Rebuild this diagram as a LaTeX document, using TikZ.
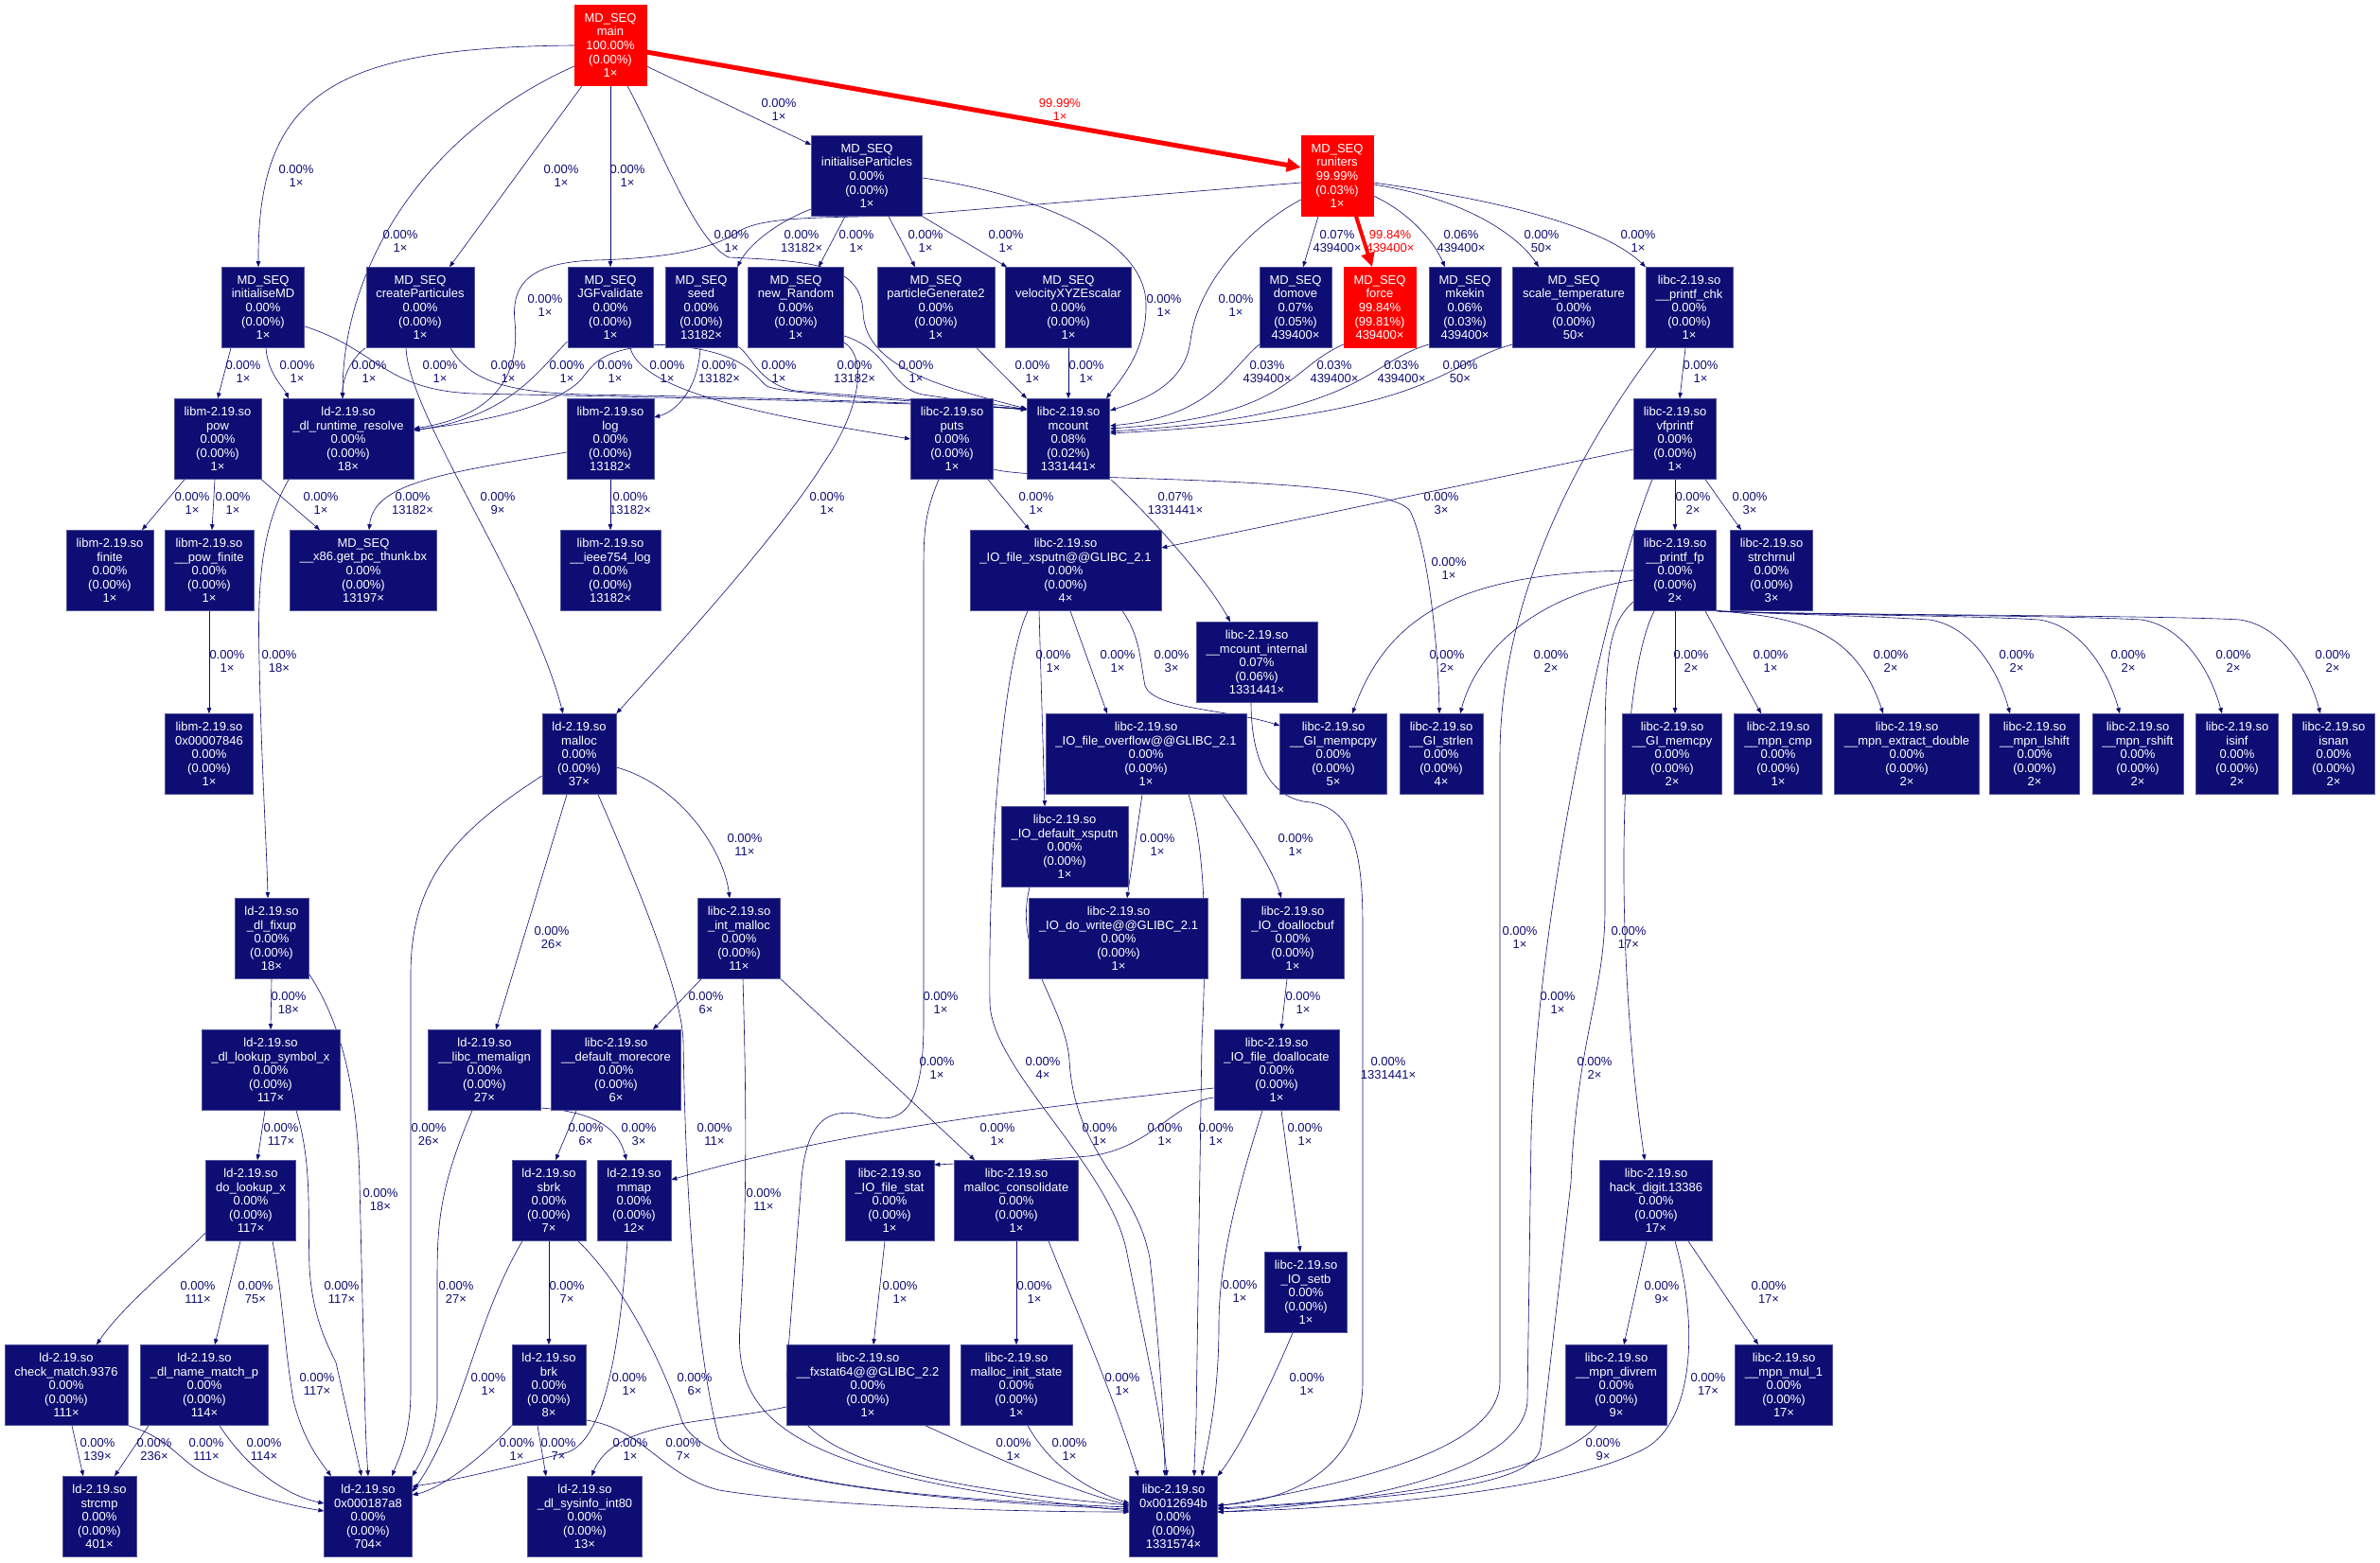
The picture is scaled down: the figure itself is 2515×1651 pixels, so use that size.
\documentclass[tikz,border=0pt]{standalone}
\usepackage{fontspec}
\setmainfont{Liberation Sans}
\usetikzlibrary{arrows.meta}
\definecolor{cold}{RGB}{13,13,115}
\definecolor{hot}{RGB}{255,0,0}
\pgfdeclarelayer{bg}
\pgfsetlayers{bg,main}

\begin{document}
\begin{tikzpicture}[x=1pt,y=-1pt,
  fn/.style={rectangle,draw=cold!70!white,line width=0.6pt,fill=cold,text=white,align=center,minimum height=85pt,inner xsep=10.5pt,inner ysep=0pt,font=\fontsize{13}{14.6}\selectfont},
  hotfn/.style={fn,fill=hot,draw=hot},
  lb/.style={align=center,inner sep=0pt,text=cold,font=\fontsize{13}{14.6}\selectfont},
  hotlb/.style={lb,text=hot},
  call/.style={-{Triangle[length=6pt,width=4.5pt]},draw=cold,line width=0.6pt},
  hotcall/.style={-{Triangle[length=15pt,width=14pt]},draw=hot,line width=5pt}]
\useasboundingbox (0,0) rectangle (2515,1651);

\node[hotfn] (main) at (645,48) {MD\_SEQ\\main\\100.00\%\\(0.00\%)\\1×};
\node[fn] (initp) at (916,186) {MD\_SEQ\\initialiseParticles\\0.00\%\\(0.00\%)\\1×};
\node[hotfn] (runiters) at (1413,186) {MD\_SEQ\\runiters\\99.99\%\\(0.03\%)\\1×};
\node[fn] (initmd) at (278,325) {MD\_SEQ\\initialiseMD\\0.00\%\\(0.00\%)\\1×};
\node[fn] (createp) at (444,325) {MD\_SEQ\\createParticules\\0.00\%\\(0.00\%)\\1×};
\node[fn] (jgf) at (645,325) {MD\_SEQ\\JGFvalidate\\0.00\%\\(0.00\%)\\1×};
\node[fn] (seed) at (741,325) {MD\_SEQ\\seed\\0.00\%\\(0.00\%)\\13182×};
\node[fn] (newrand) at (841,325) {MD\_SEQ\\new\_Random\\0.00\%\\(0.00\%)\\1×};
\node[fn] (pgen) at (989,325) {MD\_SEQ\\particleGenerate2\\0.00\%\\(0.00\%)\\1×};
\node[fn] (velxyz) at (1129,325) {MD\_SEQ\\velocityXYZEscalar\\0.00\%\\(0.00\%)\\1×};
\node[fn] (domove) at (1369,325) {MD\_SEQ\\domove\\0.07\%\\(0.05\%)\\439400×};
\node[hotfn] (force) at (1458,325) {MD\_SEQ\\force\\99.84\%\\(99.81\%)\\439400×};
\node[fn] (mkekin) at (1548,325) {MD\_SEQ\\mkekin\\0.06\%\\(0.03\%)\\439400×};
\node[fn] (scalet) at (1663,325) {MD\_SEQ\\scale\_temperature\\0.00\%\\(0.00\%)\\50×};
\node[fn] (pchk) at (1785,325) {libc-2.19.so\\\_\_printf\_chk\\0.00\%\\(0.00\%)\\1×};
\node[fn] (pow) at (230,464) {libm-2.19.so\\pow\\0.00\%\\(0.00\%)\\1×};
\node[fn] (rtres) at (368,464) {ld-2.19.so\\\_dl\_runtime\_resolve\\0.00\%\\(0.00\%)\\18×};
\node[fn] (log) at (645,464) {libm-2.19.so\\log\\0.00\%\\(0.00\%)\\13182×};
\node[fn] (puts) at (1006,464) {libc-2.19.so\\puts\\0.00\%\\(0.00\%)\\1×};
\node[fn] (mcount) at (1129,464) {libc-2.19.so\\mcount\\0.08\%\\(0.02\%)\\1331441×};
\node[fn] (vfpr) at (1770,464) {libc-2.19.so\\vfprintf\\0.00\%\\(0.00\%)\\1×};
\node[fn] (finite) at (116,603) {libm-2.19.so\\finite\\0.00\%\\(0.00\%)\\1×};
\node[fn] (powfin) at (221,603) {libm-2.19.so\\\_\_pow\_finite\\0.00\%\\(0.00\%)\\1×};
\node[fn] (thunk) at (384,603) {MD\_SEQ\\\_\_x86.get\_pc\_thunk.bx\\0.00\%\\(0.00\%)\\13197×};
\node[fn] (ieee) at (645,603) {libm-2.19.so\\\_\_ieee754\_log\\0.00\%\\(0.00\%)\\13182×};
\node[fn] (xsputn) at (1126,603) {libc-2.19.so\\\_IO\_file\_xsputn@@GLIBC\_2.1\\0.00\%\\(0.00\%)\\4×};
\node[fn] (pfp) at (1770,603) {libc-2.19.so\\\_\_printf\_fp\\0.00\%\\(0.00\%)\\2×};
\node[fn] (strchr) at (1872,603) {libc-2.19.so\\strchrnul\\0.00\%\\(0.00\%)\\3×};
\node[fn] (mcint) at (1328,700) {libc-2.19.so\\\_\_mcount\_internal\\0.07\%\\(0.06\%)\\1331441×};
\node[fn] (x7846) at (221,797) {libm-2.19.so\\0x00007846\\0.00\%\\(0.00\%)\\1×};
\node[fn] (malloc) at (612,797) {ld-2.19.so\\malloc\\0.00\%\\(0.00\%)\\37×};
\node[fn] (overflow) at (1211,797) {libc-2.19.so\\\_IO\_file\_overflow@@GLIBC\_2.1\\0.00\%\\(0.00\%)\\1×};
\node[fn] (mempcpy) at (1409,797) {libc-2.19.so\\\_\_GI\_mempcpy\\0.00\%\\(0.00\%)\\5×};
\node[fn] (strlen) at (1523,797) {libc-2.19.so\\\_\_GI\_strlen\\0.00\%\\(0.00\%)\\4×};
\node[fn] (memcpy) at (1767,797) {libc-2.19.so\\\_\_GI\_memcpy\\0.00\%\\(0.00\%)\\2×};
\node[fn] (mpncmp) at (1879,797) {libc-2.19.so\\\_\_mpn\_cmp\\0.00\%\\(0.00\%)\\1×};
\node[fn] (extract) at (2015,797) {libc-2.19.so\\\_\_mpn\_extract\_double\\0.00\%\\(0.00\%)\\2×};
\node[fn] (lshift) at (2150,797) {libc-2.19.so\\\_\_mpn\_lshift\\0.00\%\\(0.00\%)\\2×};
\node[fn] (rshift) at (2259,797) {libc-2.19.so\\\_\_mpn\_rshift\\0.00\%\\(0.00\%)\\2×};
\node[fn] (isinf) at (2364,797) {libc-2.19.so\\isinf\\0.00\%\\(0.00\%)\\2×};
\node[fn] (isnan) at (2466,797) {libc-2.19.so\\isnan\\0.00\%\\(0.00\%)\\2×};
\node[fn] (defxs) at (1125,895) {libc-2.19.so\\\_IO\_default\_xsputn\\0.00\%\\(0.00\%)\\1×};
\node[fn] (fixup) at (287,992) {ld-2.19.so\\\_dl\_fixup\\0.00\%\\(0.00\%)\\18×};
\node[fn] (intmal) at (781,992) {libc-2.19.so\\\_int\_malloc\\0.00\%\\(0.00\%)\\11×};
\node[fn] (dowrite) at (1182,992) {libc-2.19.so\\\_IO\_do\_write@@GLIBC\_2.1\\0.00\%\\(0.00\%)\\1×};
\node[fn] (dabuf) at (1366,992) {libc-2.19.so\\\_IO\_doallocbuf\\0.00\%\\(0.00\%)\\1×};
\node[fn] (lookup) at (286,1131) {ld-2.19.so\\\_dl\_lookup\_symbol\_x\\0.00\%\\(0.00\%)\\117×};
\node[fn] (memalign) at (512,1131) {ld-2.19.so\\\_\_libc\_memalign\\0.00\%\\(0.00\%)\\27×};
\node[fn] (morecore) at (651,1131) {libc-2.19.so\\\_\_default\_morecore\\0.00\%\\(0.00\%)\\6×};
\node[fn] (fdalloc) at (1349,1131) {libc-2.19.so\\\_IO\_file\_doallocate\\0.00\%\\(0.00\%)\\1×};
\node[fn] (dolookup) at (265,1269) {ld-2.19.so\\do\_lookup\_x\\0.00\%\\(0.00\%)\\117×};
\node[fn] (sbrk) at (580,1269) {ld-2.19.so\\sbrk\\0.00\%\\(0.00\%)\\7×};
\node[fn] (mmap) at (670,1269) {ld-2.19.so\\mmap\\0.00\%\\(0.00\%)\\12×};
\node[fn] (fstat) at (940,1269) {libc-2.19.so\\\_IO\_file\_stat\\0.00\%\\(0.00\%)\\1×};
\node[fn] (mcons) at (1074,1269) {libc-2.19.so\\malloc\_consolidate\\0.00\%\\(0.00\%)\\1×};
\node[fn] (hack) at (1750,1269) {libc-2.19.so\\hack\_digit.13386\\0.00\%\\(0.00\%)\\17×};
\node[fn] (setb) at (1380,1366) {libc-2.19.so\\\_IO\_setb\\0.00\%\\(0.00\%)\\1×};
\node[fn] (chkmatch) at (70,1464) {ld-2.19.so\\check\_match.9376\\0.00\%\\(0.00\%)\\111×};
\node[fn] (namem) at (216,1464) {ld-2.19.so\\\_dl\_name\_match\_p\\0.00\%\\(0.00\%)\\114×};
\node[fn] (brk) at (580,1464) {ld-2.19.so\\brk\\0.00\%\\(0.00\%)\\8×};
\node[fn] (fxstat) at (917,1464) {libc-2.19.so\\\_\_fxstat64@@GLIBC\_2.2\\0.00\%\\(0.00\%)\\1×};
\node[fn] (minit) at (1074,1464) {libc-2.19.so\\malloc\_init\_state\\0.00\%\\(0.00\%)\\1×};
\node[fn] (divrem) at (1708,1464) {libc-2.19.so\\\_\_mpn\_divrem\\0.00\%\\(0.00\%)\\9×};
\node[fn] (mul1) at (1885,1464) {libc-2.19.so\\\_\_mpn\_mul\_1\\0.00\%\\(0.00\%)\\17×};
\node[fn] (strcmp) at (105,1603) {ld-2.19.so\\strcmp\\0.00\%\\(0.00\%)\\401×};
\node[fn] (ld187) at (389,1603) {ld-2.19.so\\0x000187a8\\0.00\%\\(0.00\%)\\704×};
\node[fn] (int80) at (618,1603) {ld-2.19.so\\\_dl\_sysinfo\_int80\\0.00\%\\(0.00\%)\\13×};
\node[fn] (lc1269) at (1240,1603) {libc-2.19.so\\0x0012694b\\0.00\%\\(0.00\%)\\1331574×};

\begin{pgfonlayer}{bg}
\draw[call] (main.west) .. controls (350,50) and (272,100) .. ([xshift=-5pt]initmd.north);
\draw[call] ([yshift=-22pt]main.west) .. controls (450,140) and (362,280) .. ([xshift=-6pt]rtres.north);
\draw[call] ([xshift=-30pt]main.south) -- ([xshift=31pt]createp.north);
\draw[call] (main.south) -- (jgf.north);
\draw[call] ([xshift=18pt]main.south) .. controls (700,160) and (735,255) .. (770,272) .. controls (860,276) and (910,280) .. (912,330) .. controls (914,390) and (1000,410) .. ([yshift=32pt]mcount.west);
\draw[call] ([yshift=-22pt]main.east) -- ([yshift=33pt]initp.west);
\draw[hotcall] ([yshift=-7pt]main.east) -- ([yshift=9pt]runiters.west);
\draw[hotcall,line width=4pt] ([xshift=20pt]runiters.south) -- ([xshift=-8pt]force.north);
\draw[call] ([xshift=-20pt]runiters.south) -- ([xshift=8pt]domove.north);
\draw[call] ([yshift=-21pt]runiters.east) .. controls (1490,225) and (1515,255) .. ([xshift=-21pt]mkekin.north);
\draw[call] ([yshift=-9pt]runiters.east) .. controls (1550,210) and (1605,250) .. ([xshift=-37pt]scalet.north);
\draw[call] ([yshift=-7pt]runiters.east) .. controls (1610,215) and (1700,245) .. ([xshift=-46pt]pchk.north);
\draw[call] ([yshift=-25pt]runiters.west) .. controls (1320,240) and (1265,300) .. (1258,360) .. controls (1252,410) and (1200,425) .. ([yshift=30pt]mcount.east);
\draw[call] ([yshift=-7pt]runiters.west) -- (976,226) .. controls (900,232) and (810,225) .. (780,245) .. controls (750,265) and (700,273) .. (630,275) .. controls (560,277) and (540,300) .. (544,340) .. controls (550,400) and (520,440) .. ([yshift=11pt]rtres.east);
\draw[call] ([yshift=-35pt]initp.west) .. controls (820,235) and (790,260) .. (seed.north east);
\draw[call] ([xshift=-23pt]initp.south) -- ([xshift=24pt]newrand.north);
\draw[call] ([xshift=23pt]initp.south) -- ([xshift=-22pt]pgen.north);
\draw[call] (initp.south east) -- ([xshift=-65pt]velxyz.north);
\draw[call] ([yshift=-2pt]initp.east) .. controls (1090,205) and (1210,250) .. (1211,321) .. controls (1212,370) and (1185,400) .. ([xshift=40pt]mcount.north);
\draw[call] ([xshift=-34pt]initmd.south) -- (pow.north);
\draw[call] ([xshift=3pt]initmd.south) .. controls (283,395) and (300,410) .. ([xshift=-63pt]rtres.north);
\draw[call] ([yshift=-20pt]initmd.east) .. controls (400,370) and (405,412) .. (500,416) .. controls (700,420) and (950,425) .. ([yshift=32pt]mcount.west);
\draw[call] ([xshift=-58pt]createp.south) .. controls (370,380) and (362,400) .. ([xshift=-6pt]rtres.north);
\draw[call] ([xshift=-15pt]createp.south) .. controls (432,440) and (560,620) .. ([xshift=-17pt]malloc.north);
\draw[call] ([xshift=32pt]createp.south) .. controls (495,400) and (530,415) .. (620,417) .. controls (800,420) and (1000,426) .. ([yshift=31pt]mcount.west);
\draw[call] ([yshift=-36pt]jgf.west) .. controls (570,390) and (540,440) .. ([yshift=9pt]rtres.east);
\draw[call] ([xshift=21pt]jgf.south) .. controls (680,420) and (850,445) .. (puts.west);
\draw[call] ([yshift=-39pt]jgf.east) .. controls (785,368) and (795,395) .. (810,408) .. controls (830,418) and (1000,425) .. ([yshift=31pt]mcount.west);
\draw[call] ([yshift=-39pt]seed.west) .. controls (640,368) and (630,380) .. (615,400) .. controls (590,430) and (500,448) .. ([yshift=10pt]rtres.east);
\draw[call] ([xshift=-1pt]seed.south) .. controls (738,410) and (715,435) .. ([yshift=23pt]log.east);
\draw[call] ([yshift=-41pt]seed.east) .. controls (795,375) and (800,405) .. (840,413) .. controls (900,418) and (1000,425) .. ([yshift=31pt]mcount.west);
\draw[call] ([yshift=-37pt]newrand.east) .. controls (920,380) and (905,440) .. (870,490) .. controls (820,570) and (700,700) .. (malloc.north east);
\draw[call] ([yshift=-30pt]newrand.east) .. controls (940,370) and (940,410) .. (975,417) .. controls (1020,424) and (1060,428) .. ([yshift=31pt]mcount.west);
\draw[call] ([xshift=43pt]pgen.south) -- (mcount.north west);
\draw[call] (velxyz.south) -- (mcount.north);
\draw[call] ([yshift=-39pt]domove.west) .. controls (1295,395) and (1280,440) .. ([yshift=14pt]mcount.east);
\draw[call] ([yshift=-39pt]force.west) .. controls (1360,390) and (1365,440) .. ([yshift=11pt]mcount.east);
\draw[call] ([yshift=-39pt]mkekin.west) .. controls (1440,385) and (1440,440) .. ([yshift=8pt]mcount.east);
\draw[call] ([yshift=-39pt]scalet.west) .. controls (1520,385) and (1520,440) .. ([yshift=6pt]mcount.east);
\draw[call] ([xshift=-4pt]pchk.south) -- ([xshift=5pt]vfpr.north);
\draw[call] ([xshift=-35pt]pchk.south) .. controls (1680,460) and (1585,620) .. (1585,800) -- (1585,1460) .. controls (1585,1520) and (1480,1560) .. ([yshift=11pt]lc1269.east);
\draw[call] ([xshift=-35pt]pow.south) -- ([xshift=34pt]finite.north);
\draw[call] ([xshift=-3pt]pow.south) -- ([xshift=3pt]powfin.north);
\draw[call] (pow.south east) -- ([xshift=-46pt]thunk.north);
\draw[call] ([yshift=-14pt]log.west) .. controls (470,500) and (395,510) .. ([xshift=6pt]thunk.north);
\draw[call] (log.south) -- (ieee.north);
\draw[call] ([xshift=-63pt]rtres.south) .. controls (275,560) and (272,620) .. (274,700) .. controls (276,800) and (282,900) .. ([xshift=-4pt]fixup.north);
\draw[call] ([xshift=38pt]puts.south) -- ([xshift=-38pt]xsputn.north);
\draw[call] ([yshift=-32pt]puts.east) .. controls (1100,510) and (1460,500) .. (1490,540) .. controls (1510,580) and (1520,690) .. ([xshift=-2pt]strlen.north);
\draw[call] ([xshift=-14pt]puts.south) .. controls (978,540) and (976,560) .. (976,600) -- (976,1080) .. controls (976,1160) and (960,1190) .. (920,1180) .. controls (880,1170) and (850,1175) .. (846,1260) -- (832,1440) .. controls (822,1520) and (900,1565) .. ([yshift=12pt]lc1269.west);
\draw[call] ([xshift=45pt]mcount.south) .. controls (1230,560) and (1280,620) .. ([xshift=-28pt]mcint.north);
\draw[call] ([yshift=-11pt]vfpr.west) -- ([yshift=24pt]xsputn.east);
\draw[call] (vfpr.south) -- (pfp.north);
\draw[call] ([xshift=32pt]vfpr.south) -- ([xshift=-32pt]strchr.north);
\draw[call] ([xshift=-24pt]vfpr.south) .. controls (1700,620) and (1625,950) .. (1618,1200) -- (1614,1480) .. controls (1612,1550) and (1450,1590) .. ([yshift=5pt]lc1269.east);
\draw[call] (powfin.south) -- (x7846.north);
\draw[call] ([xshift=-28pt]xsputn.south) -- ([xshift=-21pt]defxs.north);
\draw[call] ([xshift=5pt]xsputn.south) -- ([xshift=-41pt]overflow.north);
\draw[call] ([xshift=60pt]xsputn.south) .. controls (1205,672) and (1205,700) .. (1210,725) .. controls (1220,750) and (1300,750) .. ([yshift=30pt]mempcpy.west);
\draw[call] ([xshift=-40pt]xsputn.south) .. controls (1060,700) and (1044,900) .. (1046,1060) .. controls (1048,1130) and (1170,1230) .. (1190,1320) .. controls (1210,1420) and (1228,1500) .. ([xshift=-7pt]lc1269.north);
\draw[call] (pfp.west) .. controls (1560,605) and (1470,640) .. ([xshift=20pt]mempcpy.north);
\draw[call] ([yshift=-10pt]pfp.west) .. controls (1620,630) and (1560,690) .. ([xshift=20pt]strlen.north);
\draw[call] (pfp.south) -- ([xshift=3pt]memcpy.north);
\draw[call] ([xshift=32pt]pfp.south) -- ([xshift=-18pt]mpncmp.north);
\draw[call] (pfp.south east) .. controls (1900,652) and (1960,665) .. ([xshift=-25pt]extract.north);
\draw[call] (pfp.south east) .. controls (1900,650) and (1954,650) .. (2039,655) .. controls (2084,662) and (2112,710) .. ([xshift=-26pt]lshift.north);
\draw[call] (pfp.south east) .. controls (1900,650) and (2070,650) .. (2155,655) .. controls (2200,662) and (2228,710) .. ([xshift=-19pt]rshift.north);
\draw[call] (pfp.south east) .. controls (1900,650) and (2178,650) .. (2263,655) .. controls (2308,662) and (2336,710) .. ([xshift=-16pt]isinf.north);
\draw[call] (pfp.south east) .. controls (1900,650) and (2282,650) .. (2367,655) .. controls (2412,662) and (2440,710) .. ([xshift=-14pt]isnan.north);
\draw[call] ([xshift=-22pt]pfp.south) .. controls (1710,720) and (1705,1000) .. ([xshift=-12pt]hack.north);
\draw[call] ([yshift=-33pt]pfp.west) .. controls (1700,660) and (1696,690) .. (1696,800) -- (1696,960) .. controls (1696,1050) and (1666,1100) .. (1660,1250) -- (1628,1530) .. controls (1620,1570) and (1500,1582) .. ([yshift=9pt]lc1269.east);
\draw[call] ([xshift=-6pt]mcint.south) .. controls (1322,800) and (1340,845) .. (1385,848) .. controls (1430,855) and (1440,900) .. (1440,980) -- (1440,1460) .. controls (1440,1540) and (1380,1585) .. ([yshift=12pt]lc1269.east);
\draw[call] ([yshift=-14pt]malloc.east) .. controls (720,830) and (765,900) .. ([xshift=-10pt]intmal.north);
\draw[call] ([xshift=-13pt]malloc.south) -- ([xshift=12pt]memalign.north);
\draw[call] ([yshift=-23pt]malloc.west) .. controls (480,880) and (434,930) .. (434,1030) -- (434,1470) .. controls (434,1520) and (420,1545) .. ([xshift=25pt]ld187.north);
\draw[call] ([xshift=20pt]malloc.south) .. controls (680,950) and (720,1050) .. (722,1100) .. controls (725,1300) and (740,1450) .. (760,1520) .. controls (790,1570) and (1000,1585) .. ([yshift=10pt]lc1269.west);
\draw[call] ([xshift=-4pt]overflow.south) -- ([xshift=9pt]dowrite.north);
\draw[call] ([xshift=81pt]overflow.south) .. controls (1320,880) and (1345,920) .. ([xshift=-12pt]dabuf.north);
\draw[call] ([xshift=45pt]overflow.south) .. controls (1275,900) and (1275,1000) .. (1270,1100) -- (1264,1500) .. controls (1263,1530) and (1262,1545) .. ([xshift=22pt]lc1269.north);
\draw[call] ([xshift=-37pt]defxs.south) .. controls (1070,1010) and (1125,1060) .. (1130,1120) .. controls (1135,1220) and (1200,1250) .. (1215,1330) .. controls (1225,1420) and (1230,1500) .. ([xshift=-9pt]lc1269.north);
\draw[call] (fixup.south) -- (lookup.north);
\draw[call] ([yshift=-37pt]fixup.east) .. controls (360,1080) and (378,1150) .. (380,1250) -- (386,1500) .. controls (387,1530) and (388,1545) .. (ld187.north);
\draw[call] ([xshift=-40pt]intmal.south) -- ([xshift=39pt]morecore.north);
\draw[call] ([xshift=4pt]intmal.south) .. controls (790,1200) and (788,1300) .. (782,1400) .. controls (775,1500) and (830,1560) .. ([yshift=6pt]lc1269.west);
\draw[call] (intmal.south east) -- ([xshift=-44pt]mcons.north);
\draw[call] ([xshift=-6pt]dabuf.south) -- ([xshift=5pt]fdalloc.north);
\draw[call] ([xshift=-6pt]lookup.south) -- ([xshift=7pt]dolookup.north);
\draw[call] ([xshift=27pt]lookup.south) .. controls (330,1230) and (325,1280) .. (327,1340) .. controls (330,1390) and (345,1420) .. (355,1440) -- ([xshift=-7pt]ld187.north);
\draw[call] ([yshift=-40pt]memalign.east) .. controls (640,1176) and (655,1200) .. ([xshift=-8pt]mmap.north);
\draw[call] ([xshift=-13pt]memalign.south) .. controls (462,1260) and (462,1300) .. (462,1360) -- (462,1480) .. controls (460,1520) and (445,1545) .. (ld187.north east);
\draw[call] ([xshift=-42pt]morecore.south) -- ([xshift=7pt]sbrk.north);
\draw[call] ([yshift=-19pt]fdalloc.west) .. controls (1150,1165) and (900,1190) .. ([yshift=22pt]mmap.east);
\draw[call] ([yshift=-29pt]fdalloc.west) .. controls (1240,1165) and (1215,1215) .. (1150,1222) .. controls (1080,1228) and (1030,1229) .. ([yshift=38pt]fstat.east);
\draw[call] ([xshift=5pt]fdalloc.south) -- ([xshift=-6pt]setb.north);
\draw[call] ([xshift=-15pt]fdalloc.south) .. controls (1310,1250) and (1288,1330) .. (1288,1400) .. controls (1288,1480) and (1275,1530) .. ([xshift=30pt]lc1269.north);
\draw[call] ([yshift=-34pt]dolookup.west) .. controls (180,1340) and (130,1380) .. ([xshift=32pt]chkmatch.north);
\draw[call] ([xshift=-11pt]dolookup.south) -- ([xshift=11pt]namem.north);
\draw[call] ([xshift=23pt]dolookup.south) .. controls (300,1380) and (300,1420) .. (310,1480) .. controls (320,1520) and (335,1540) .. ([xshift=-39pt]ld187.north);
\draw[call] (sbrk.south) -- (brk.north);
\draw[call] ([xshift=-28pt]sbrk.south) .. controls (500,1400) and (490,1500) .. ([yshift=26pt]ld187.east);
\draw[call] ([xshift=31pt]sbrk.south) .. controls (660,1360) and (700,1440) .. (720,1500) .. controls (740,1560) and (950,1585) .. ([yshift=8pt]lc1269.west);
\draw[call] ([xshift=-7pt]mmap.south) .. controls (655,1420) and (640,1520) .. (600,1535) .. controls (540,1550) and (480,1565) .. ([yshift=32pt]ld187.east);
\draw[call] ([xshift=-5pt]fstat.south) -- ([xshift=6pt]fxstat.north);
\draw[call] (mcons.south) -- (minit.north);
\draw[call] ([xshift=34pt]mcons.south) .. controls (1135,1380) and (1175,1470) .. ([xshift=-37pt]lc1269.north);
\draw[call] ([xshift=-10pt]hack.south) -- ([xshift=8pt]divrem.north);
\draw[call] ([xshift=34pt]hack.south) -- ([xshift=-27pt]mul1.north);
\draw[call] ([xshift=20pt]hack.south) .. controls (1795,1400) and (1790,1500) .. (1740,1530) .. controls (1650,1580) and (1400,1595) .. ([yshift=5pt]lc1269.east);
\draw[call] ([xshift=-14pt]setb.south) .. controls (1340,1470) and (1310,1530) .. (lc1269.north east);
\draw[call] ([xshift=6pt]chkmatch.south) -- ([xshift=-17pt]strcmp.north);
\draw[call] (chkmatch.south east) .. controls (180,1520) and (190,1545) .. (220,1560) .. controls (260,1580) and (310,1592) .. ([yshift=6pt]ld187.west);
\draw[call] ([xshift=-59pt]namem.south) -- ([xshift=16pt]strcmp.north);
\draw[call] ([xshift=16pt]namem.south) .. controls (260,1550) and (300,1580) .. ([yshift=14pt]ld187.west);
\draw[call] (brk.south west) .. controls (500,1550) and (460,1575) .. ([yshift=23pt]ld187.east);
\draw[call] ([xshift=-12pt]brk.south) -- ([xshift=-41pt]int80.north);
\draw[call] ([yshift=-37pt]brk.east) .. controls (680,1510) and (700,1560) .. (760,1575) .. controls (850,1590) and (1050,1598) .. ([yshift=5pt]lc1269.west);
\draw[call] ([yshift=-23pt]fxstat.west) .. controls (750,1505) and (650,1500) .. ([xshift=7pt]int80.north);
\draw[call] ([xshift=61pt]fxstat.south) .. controls (1050,1540) and (1130,1575) .. ([yshift=12pt]lc1269.west);
\draw[call] ([xshift=12pt]minit.south) .. controls (1110,1550) and (1150,1575) .. ([yshift=14pt]lc1269.west);
\draw[call] ([xshift=-21pt]divrem.south) .. controls (1650,1550) and (1500,1585) .. ([yshift=8pt]lc1269.east);
\end{pgfonlayer}

\node[lb] (l1) at (313,186) {0.00\%\\1×};
\node[lb] (l2) at (423,255) {0.00\%\\1×};
\node[lb] (l3) at (593,186) {0.00\%\\1×};
\node[lb] (l4) at (663,186) {0.00\%\\1×};
\node[lb] (l5) at (773,255) {0.00\%\\1×};
\node[lb] (l6) at (823,116) {0.00\%\\1×};
\node[hotlb] (l7) at (1120,116) {99.99\%\\1×};
\node[hotlb] (l8) at (1469,255) {99.84\%\\439400×};
\node[lb] (l9) at (1413,255) {0.07\%\\439400×};
\node[lb] (l10) at (1544,255) {0.06\%\\439400×};
\node[lb] (l11) at (1629,255) {0.00\%\\50×};
\node[lb] (l12) at (1731,255) {0.00\%\\1×};
\node[lb] (l13) at (1306,323) {0.00\%\\1×};
\node[lb] (l14) at (576,323) {0.00\%\\1×};
\node[lb] (l15) at (847,255) {0.00\%\\13182×};
\node[lb] (l16) at (905,255) {0.00\%\\1×};
\node[lb] (l17) at (978,255) {0.00\%\\1×};
\node[lb] (l18) at (1063,255) {0.00\%\\1×};
\node[lb] (l19) at (1230,323) {0.00\%\\1×};
\node[lb] (l20) at (257,393) {0.00\%\\1×};
\node[lb] (l21) at (314,393) {0.00\%\\1×};
\node[lb] (l22) at (390,393) {0.00\%\\1×};
\node[lb] (l23) at (465,393) {0.00\%\\1×};
\node[lb] (l24) at (537,393) {0.00\%\\1×};
\node[lb] (l25) at (599,393) {0.00\%\\1×};
\node[lb] (l26) at (650,393) {0.00\%\\1×};
\node[lb] (l27) at (705,393) {0.00\%\\1×};
\node[lb] (l28) at (760,393) {0.00\%\\13182×};
\node[lb] (l29) at (823,393) {0.00\%\\1×};
\node[lb] (l30) at (903,393) {0.00\%\\13182×};
\node[lb] (l31) at (968,393) {0.00\%\\1×};
\node[lb] (l32) at (1091,393) {0.00\%\\1×};
\node[lb] (l33) at (1148,393) {0.00\%\\1×};
\node[lb] (l34) at (1339,393) {0.03\%\\439400×};
\node[lb] (l35) at (1410,393) {0.03\%\\439400×};
\node[lb] (l36) at (1481,393) {0.03\%\\439400×};
\node[lb] (l37) at (1543,393) {0.00\%\\50×};
\node[lb] (l38) at (1797,393) {0.00\%\\1×};
\node[lb] (l39) at (526,532) {0.00\%\\9×};
\node[lb] (l40) at (874,532) {0.00\%\\1×};
\node[lb] (l41) at (203,532) {0.00\%\\1×};
\node[lb] (l42) at (246,532) {0.00\%\\1×};
\node[lb] (l43) at (339,532) {0.00\%\\1×};
\node[lb] (l44) at (436,532) {0.00\%\\13182×};
\node[lb] (l45) at (666,532) {0.00\%\\13182×};
\node[lb] (l46) at (1095,532) {0.00\%\\1×};
\node[lb] (l47) at (1242,532) {0.07\%\\1331441×};
\node[lb] (l48) at (1523,532) {0.00\%\\3×};
\node[lb] (l49) at (1789,532) {0.00\%\\2×};
\node[lb] (l50) at (1849,532) {0.00\%\\3×};
\node[lb] (l51) at (1531,601) {0.00\%\\1×};
\node[lb] (l52) at (295,699) {0.00\%\\18×};
\node[lb] (l53) at (240,699) {0.00\%\\1×};
\node[lb] (l54) at (1113,699) {0.00\%\\1×};
\node[lb] (l55) at (1181,699) {0.00\%\\1×};
\node[lb] (l56) at (1238,699) {0.00\%\\3×};
\node[lb] (l57) at (1529,699) {0.00\%\\2×};
\node[lb] (l58) at (1639,699) {0.00\%\\2×};
\node[lb] (l59) at (1787,699) {0.00\%\\2×};
\node[lb] (l60) at (1871,699) {0.00\%\\1×};
\node[lb] (l61) at (1998,699) {0.00\%\\2×};
\node[lb] (l62) at (2131,699) {0.00\%\\2×};
\node[lb] (l63) at (2249,699) {0.00\%\\2×};
\node[lb] (l64) at (2360,699) {0.00\%\\2×};
\node[lb] (l65) at (2465,699) {0.00\%\\2×};
\node[lb] (l66) at (787,893) {0.00\%\\11×};
\node[lb] (l67) at (1223,893) {0.00\%\\1×};
\node[lb] (l68) at (1369,893) {0.00\%\\1×};
\node[lb] (l69) at (583,991) {0.00\%\\26×};
\node[lb] (l70) at (1606,991) {0.00\%\\1×};
\node[lb] (l71) at (1721,991) {0.00\%\\17×};
\node[lb] (l72) at (994,1060) {0.00\%\\1×};
\node[lb] (l73) at (1646,1060) {0.00\%\\1×};
\node[lb] (l74) at (305,1060) {0.00\%\\18×};
\node[lb] (l75) at (746,1060) {0.00\%\\6×};
\node[lb] (l76) at (1377,1060) {0.00\%\\1×};
\node[lb] (l77) at (990,1129) {0.00\%\\1×};
\node[lb] (l78) at (1102,1129) {0.00\%\\4×};
\node[lb] (l79) at (1467,1129) {0.00\%\\1331441×};
\node[lb] (l80) at (1685,1129) {0.00\%\\2×};
\node[lb] (l81) at (297,1199) {0.00\%\\117×};
\node[lb] (l82) at (453,1199) {0.00\%\\26×};
\node[lb] (l83) at (619,1199) {0.00\%\\6×};
\node[lb] (l84) at (675,1199) {0.00\%\\3×};
\node[lb] (l85) at (755,1199) {0.00\%\\11×};
\node[lb] (l86) at (1054,1199) {0.00\%\\1×};
\node[lb] (l87) at (1162,1199) {0.00\%\\1×};
\node[lb] (l88) at (1231,1199) {0.00\%\\1×};
\node[lb] (l89) at (1285,1199) {0.00\%\\1×};
\node[lb] (l90) at (1379,1199) {0.00\%\\1×};
\node[lb] (l91) at (402,1268) {0.00\%\\18×};
\node[lb] (l92) at (807,1268) {0.00\%\\11×};
\node[lb] (l93) at (209,1366) {0.00\%\\111×};
\node[lb] (l94) at (270,1366) {0.00\%\\75×};
\node[lb] (l95) at (361,1366) {0.00\%\\117×};
\node[lb] (l96) at (482,1366) {0.00\%\\27×};
\node[lb] (l97) at (599,1366) {0.00\%\\7×};
\node[lb] (l98) at (951,1366) {0.00\%\\1×};
\node[lb] (l99) at (1093,1366) {0.00\%\\1×};
\node[lb] (l100) at (1310,1365) {0.00\%\\1×};
\node[lb] (l101) at (1756,1366) {0.00\%\\9×};
\node[lb] (l102) at (1869,1366) {0.00\%\\17×};
\node[lb] (l103) at (335,1463) {0.00\%\\117×};
\node[lb] (l104) at (516,1463) {0.00\%\\1×};
\node[lb] (l105) at (665,1463) {0.00\%\\1×};
\node[lb] (l106) at (734,1463) {0.00\%\\6×};
\node[lb] (l107) at (1186,1463) {0.00\%\\1×};
\node[lb] (l108) at (1381,1463) {0.00\%\\1×};
\node[lb] (l109) at (1805,1463) {0.00\%\\17×};
\node[lb] (l110) at (103,1532) {0.00\%\\139×};
\node[lb] (l111) at (163,1532) {0.00\%\\236×};
\node[lb] (l112) at (218,1532) {0.00\%\\111×};
\node[lb] (l113) at (279,1532) {0.00\%\\114×};
\node[lb] (l114) at (546,1532) {0.00\%\\1×};
\node[lb] (l115) at (590,1532) {0.00\%\\7×};
\node[lb] (l116) at (666,1532) {0.00\%\\1×};
\node[lb] (l117) at (722,1532) {0.00\%\\7×};
\node[lb] (l118) at (1071,1532) {0.00\%\\1×};
\node[lb] (l119) at (1130,1532) {0.00\%\\1×};
\node[lb] (l120) at (1694,1532) {0.00\%\\9×};
\end{tikzpicture}
\end{document}
